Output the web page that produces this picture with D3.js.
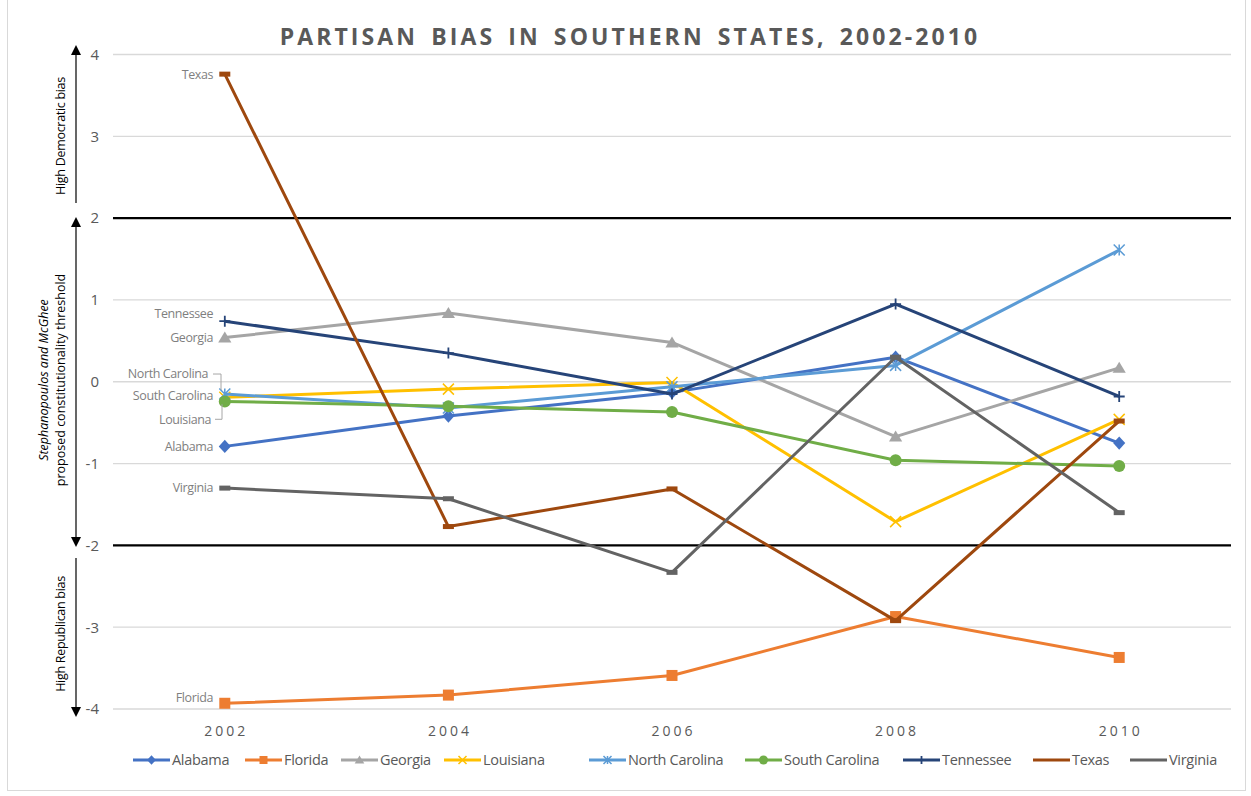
<!DOCTYPE html>
<html><head><meta charset="utf-8">
<script src="https://cdn.jsdelivr.net/npm/d3@7"></script>
<style>body{margin:0;background:#fff;} text{font-family:"Open Sans","Noto Sans",sans-serif;}</style>
</head><body>
<svg id="c" width="1251" height="796"></svg>
<script>
const years = ["2002","2004","2006","2008","2010"];
const yTicks = [-4,-3,-2,-1,0,1,2,3,4];
const seriesNames = ["Alabama","Florida","Georgia","Louisiana","North Carolina","South Carolina","Tennessee","Texas","Virginia"];
const alabama = [-0.79,-0.42,-0.13,0.30,-0.75];
const florida = [-3.93,-3.83,-3.59,-2.87,-3.37];
const georgia = [0.54,0.84,0.48,-0.67,0.17];
const louisiana = [-0.19,-0.09,-0.01,-1.71,-0.46];
const northCarolina = [-0.15,-0.32,-0.06,0.20,1.61];
const southCarolina = [-0.24,-0.30,-0.37,-0.96,-1.03];
const tennessee = [0.74,0.35,-0.15,0.95,-0.18];
const texas = [3.76,-1.77,-1.31,-2.92,-0.48];
const virginia = [-1.30,-1.43,-2.33,0.30,-1.60];
const colors = ["#4472C4","#ED7D31","#A5A5A5","#FFC000","#5B9BD5","#70AD47","#264478","#9E480E","#636363"];
const markers = ["diamond","square","triangle","x","asterisk","circle","plus","dash","dash"];
const thresholds = [2,-2];

const values = [alabama,florida,georgia,louisiana,northCarolina,southCarolina,tennessee,texas,virginia];
const series = seriesNames.map((n,i)=>({name:n,values:values[i],color:colors[i],marker:markers[i]}));

const svg = d3.select("#c");
svg.append("rect").attr("x",7.5).attr("y",-1).attr("width",1238).attr("height",791.5)
  .attr("fill","none").attr("stroke","#D9D9D9");

const L=113, R=1231, T=54.5, B=709;
const x = d3.scaleBand().domain(years).range([L,R]);
const y = d3.scaleLinear().domain([-4,4]).range([B,T]);

svg.append("g").selectAll("line").data(yTicks.filter(t=>!thresholds.includes(t))).join("line")
  .attr("x1",L).attr("x2",R).attr("y1",d=>y(d)).attr("y2",d=>y(d))
  .attr("stroke","#D9D9D9").attr("stroke-width",1.3);
svg.append("g").selectAll("line").data(thresholds).join("line")
  .attr("x1",L).attr("x2",R).attr("y1",d=>y(d)).attr("y2",d=>y(d))
  .attr("stroke","#000").attr("stroke-width",2.2);

const yAxis = d3.axisLeft(y).tickValues(yTicks).tickSize(0).tickPadding(0).tickFormat(d=>String(d));
const ga = svg.append("g").attr("transform","translate(99,0)").call(yAxis);
ga.select(".domain").remove();
ga.selectAll("text").attr("fill","#595959").attr("font-size",15).attr("font-family","Open Sans");

const xAxis = d3.axisBottom(x).tickSize(0).tickPadding(0);
const gx = svg.append("g").attr("transform","translate(0,736)").call(xAxis);
gx.select(".domain").remove();
gx.selectAll("text").attr("fill","#595959").attr("font-size",14).attr("letter-spacing","3px")
  .attr("dy",0).attr("dx",1.5).attr("font-family","Open Sans");

svg.append("text").attr("x",630).attr("y",45).attr("text-anchor","middle")
  .attr("font-size",23).attr("font-weight","bold").attr("letter-spacing","3.1px").attr("word-spacing","4px")
  .attr("fill","#595959").text("PARTISAN BIAS IN SOUTHERN STATES, 2002-2010");

// left arrows
const ax = 76;
function seg(y1,y2){ svg.append("line").attr("x1",ax).attr("x2",ax).attr("y1",y1).attr("y2",y2).attr("stroke","#000").attr("stroke-width",1.2); }
function head(tip,dir){ // dir -1 up, +1 down
  const base = tip - dir*10;
  svg.append("path").attr("d",`M${ax},${tip}L${ax+5},${base}L${ax-5},${base}Z`).attr("fill","#000");
}
seg(54,203); head(45,-1);
seg(226,538); head(217,-1); head(547,1);
seg(558,708); head(717,1);

function rotText(xc,yc){
  return svg.append("text").attr("transform",`translate(${xc},${yc}) rotate(-90)`)
    .attr("text-anchor","middle").attr("font-size",12.5).attr("fill","#000").attr("font-family","Open Sans");
}
rotText(65,136).text("High Democratic bias").attr("letter-spacing","-0.3px");
rotText(65,634).text("High Republican bias").attr("letter-spacing","-0.3px");
rotText(48,380).append("tspan").attr("font-style","italic").text("Stephanopoulos and McGhee");
rotText(65,380).text("proposed constitutionality threshold");

function drawMarker(g,type,color,s){
  switch(type){
    case "diamond": g.append("path").attr("d",`M0,${-s*0.6}L${s*0.55},0L0,${s*0.6}L${-s*0.55},0Z`).attr("fill",color); break;
    case "square": g.append("rect").attr("x",-s/2).attr("y",-s/2).attr("width",s).attr("height",s).attr("fill",color); break;
    case "triangle": g.append("path").attr("d",`M0,${-s*0.55}L${s*0.6},${s*0.45}L${-s*0.6},${s*0.45}Z`).attr("fill",color); break;
    case "circle": g.append("circle").attr("r",s/2+0.5).attr("fill",color); break;
    case "x": g.append("path").attr("d",`M${-s/2},${-s/2}L${s/2},${s/2}M${-s/2},${s/2}L${s/2},${-s/2}`).attr("stroke",color).attr("stroke-width",1.5); break;
    case "asterisk": g.append("path").attr("d",`M${-s/2},${-s/2}L${s/2},${s/2}M${-s/2},${s/2}L${s/2},${-s/2}M0,${-s/2}L0,${s/2}`).attr("stroke",color).attr("stroke-width",1.5); break;
    case "plus": g.append("path").attr("d",`M${-s/2},0L${s/2},0M0,${-s/2}L0,${s/2}`).attr("stroke",color).attr("stroke-width",1.8); break;
    case "dash": g.append("rect").attr("x",-s/2).attr("y",-2.5).attr("width",s).attr("height",5).attr("fill",color); break;
  }
}

const xc = d=>x(d)+x.bandwidth()/2;
const line = d3.line().x((d,i)=>xc(years[i])).y(d=>y(d));
const gs = svg.append("g");
series.forEach(s=>{
  const g = gs.append("g");
  g.append("path").attr("d",line(s.values)).attr("fill","none").attr("stroke",s.color).attr("stroke-width",3).attr("stroke-linejoin","round");
  s.values.forEach((v,i)=>{
    const m = g.append("g").attr("transform",`translate(${xc(years[i])},${y(v)})`);
    drawMarker(m,s.marker,s.color,11);
  });
});

const labelOffsets = {"Texas":0,"Tennessee":-8,"Georgia":0,"North Carolina":-20,"South Carolina":-6,"Louisiana":22,"Alabama":0,"Virginia":0,"Florida":-6};
const labelX = {"North Carolina":208,"Louisiana":211};
series.forEach(s=>{
  const yy = y(s.values[0]) + (labelOffsets[s.name]||0);
  svg.append("text").attr("x",labelX[s.name]||213).attr("y",yy).attr("dy","0.35em").attr("text-anchor","end")
    .attr("font-size",12.5).attr("fill","#7F7F7F").attr("font-family","Open Sans").attr("letter-spacing","-0.4px").text(s.name);
});
const nc = y(northCarolina[0]), la = y(louisiana[0]);
svg.append("path").attr("d",`M213,${nc-20}H221V${nc-4}`).attr("fill","none").attr("stroke","#A6A6A6").attr("stroke-width",1);
svg.append("path").attr("d",`M215,${la+22}H222V${la+7}`).attr("fill","none").attr("stroke","#A6A6A6").attr("stroke-width",1);

const legStarts = [133,245,341,444,589,745,903,1033,1130];
const lg = svg.append("g").attr("transform","translate(0,760)");
series.forEach((s,i)=>{
  const g = lg.append("g").attr("transform",`translate(${legStarts[i]},0)`);
  g.append("line").attr("x1",0).attr("x2",37).attr("stroke",s.color).attr("stroke-width",3);
  const m = g.append("g").attr("transform","translate(18.5,0)");
  if(s.marker!=="dash") drawMarker(m,s.marker,s.color,8);
  g.append("text").attr("x",39).attr("dy","0.35em").attr("font-size",14.5).attr("fill","#595959")
    .attr("font-family","Open Sans").attr("letter-spacing","-0.3px").text(s.name);
});
</script>
</body></html>
